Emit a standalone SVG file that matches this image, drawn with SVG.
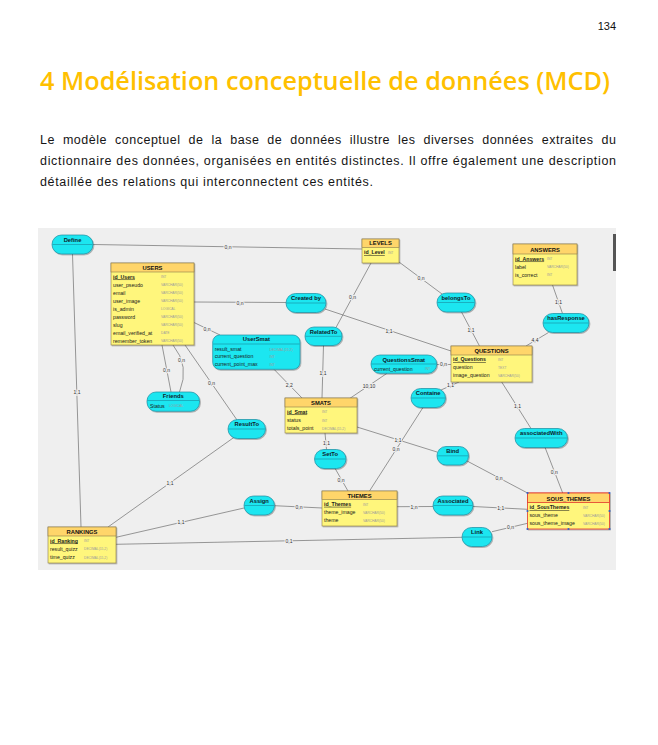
<svg xmlns="http://www.w3.org/2000/svg" width="658" height="745" viewBox="0 0 658 745">
<style>
.pn{font:11px "Liberation Sans",sans-serif;fill:#111;text-anchor:end}
.h1{font:600 25px "Open Sans",sans-serif;fill:#FFC000}
.para{font:12.5px "Liberation Sans",sans-serif;fill:#151515}
.canvas{fill:#EFEFEF}
.lnk{fill:none;stroke:#777;stroke-width:.75}
.card{font:5px "Liberation Sans",sans-serif;fill:#333;text-anchor:middle;paint-order:stroke;stroke:#EFEFEF;stroke-width:2.2;stroke-linejoin:round}
.eb{fill:#FFF67C;stroke:#8A7C4C;stroke-width:.6}
.eh{fill:#FFD56A;stroke:#8A7C4C;stroke-width:.6}
.sel .eb,.sel .eh{stroke:#E2382C;stroke-width:.8}
.et{font:bold 5.8px "Liberation Sans",sans-serif;fill:#111;text-anchor:middle}
.at{font:5.2px "Liberation Sans",sans-serif;fill:#1a1a1a}
.pk{font-weight:bold;text-decoration:underline}
.ty{font:3.3px "Liberation Sans",sans-serif;fill:#9C9C9C}
.as{fill:#1FE6F0;stroke:#1A8CA0;stroke-width:.7}
.dv{stroke:#1A8CA0;stroke-width:.6}
.an{font:bold 5.8px "Liberation Sans",sans-serif;fill:#0d1a2a;text-anchor:middle}
.hd{fill:#2F5FC8}
</style>
<defs>
<filter id="sh" x="-10%" y="-10%" width="130%" height="140%">
<feDropShadow dx="0.9" dy="1" stdDeviation="0.5" flood-color="#000" flood-opacity="0.3"/>
</filter>
</defs>

<!-- page -->
<rect width="658" height="745" fill="#fff"/>
<text class="pn" x="616" y="30">134</text>
<text class="h1" x="40" y="90" textLength="570" lengthAdjust="spacingAndGlyphs">4 Modélisation conceptuelle de données (MCD)</text>
<text class="para" x="40" y="144" word-spacing="4" textLength="576" lengthAdjust="spacing">Le modèle conceptuel de la base de données illustre les diverses données extraites du</text>
<text class="para" x="40" y="165" textLength="576" lengthAdjust="spacing">dictionnaire des données, organisées en entités distinctes. Il offre également une description</text>
<text class="para" x="40" y="186" textLength="333" lengthAdjust="spacing">détaillée des relations qui interconnectent ces entités.</text>

<!-- diagram canvas -->
<rect class="canvas" x="38" y="228" width="578" height="342"/>
<rect x="613" y="234" width="3" height="37" fill="#555"/>

<!-- connectors -->
<g id="connectors">
<path class="lnk" d="M93,244.5 L362,249"/>
<path class="lnk" d="M72.5,254 L81,527"/>
<path class="lnk" d="M194,302 L286,302.5"/>
<path class="lnk" d="M325,309 L451,351"/>
<path class="lnk" d="M371,263 L336,327.5"/>
<path class="lnk" d="M323.5,345 L322,398"/>
<path class="lnk" d="M399,262 L442,294"/>
<path class="lnk" d="M461.5,312 L479.5,346"/>
<path class="lnk" d="M552.5,285 L562.5,313.5"/>
<path class="lnk" d="M548.5,332.5 L526,346"/>
<path class="lnk" d="M194,322.5 L220,335"/>
<path class="lnk" d="M162,345 L171,392"/>
<path class="lnk" d="M173,345 Q190,366 179.5,392"/>
<path class="lnk" d="M185,345 L237,420"/>
<path class="lnk" d="M234.5,437 L108,527"/>
<path class="lnk" d="M274,369.3 L302,398"/>
<path class="lnk" d="M387,373.3 L350,398.3"/>
<path class="lnk" d="M436.7,364.5 L451,364.5"/>
<path class="lnk" d="M459,382 L441,390"/>
<path class="lnk" d="M423,407.5 L369.5,491"/>
<path class="lnk" d="M357,427 L437,452"/>
<path class="lnk" d="M325,433 L326.5,449.5"/>
<path class="lnk" d="M335,468.3 L348,491"/>
<path class="lnk" d="M466.5,460.7 L527.5,493"/>
<path class="lnk" d="M501.7,382 L531,428.5"/>
<path class="lnk" d="M545,447.3 L562.7,493"/>
<path class="lnk" d="M397,506.7 L433,506.5"/>
<path class="lnk" d="M473,506.5 L527.5,509.3"/>
<path class="lnk" d="M492,531.7 L527.5,523.3"/>
<path class="lnk" d="M116,544.3 L462,537.3"/>
<path class="lnk" d="M116,537.3 L244,508"/>
<path class="lnk" d="M274.5,505.7 L322.3,508"/>

<text class="card" x="228" y="249.4">0,n</text>
<text class="card" x="77" y="393.8">1,1</text>
<text class="card" x="240" y="304.6">0,n</text>
<text class="card" x="389" y="332.8">1,1</text>
<text class="card" x="352.5" y="298.8">0,n</text>
<text class="card" x="323" y="374.6">1,1</text>
<text class="card" x="421" y="280.3">0,n</text>
<text class="card" x="471" y="331.8">1,1</text>
<text class="card" x="558.5" y="303.8">1,1</text>
<text class="card" x="535" y="342.3">4,4</text>
<text class="card" x="207" y="330.8">0,n</text>
<text class="card" x="166.5" y="371.8">0,n</text>
<text class="card" x="181.5" y="362.3">0,n</text>
<text class="card" x="211.5" y="384.8">0,n</text>
<text class="card" x="170" y="484.8">1,1</text>
<text class="card" x="289.3" y="386.8">2,2</text>
<text class="card" x="369" y="388.3">10,10</text>
<text class="card" x="443.5" y="366.3">0,n</text>
<text class="card" x="450.5" y="387.3">1,1</text>
<text class="card" x="396" y="450.8">0,n</text>
<text class="card" x="398" y="441.6">1,1</text>
<text class="card" x="326.5" y="444.8">1,1</text>
<text class="card" x="341" y="482.3">0,n</text>
<text class="card" x="499" y="480.3">0,n</text>
<text class="card" x="517.5" y="407.8">1,1</text>
<text class="card" x="554.3" y="473.5">0,n</text>
<text class="card" x="414" y="508.5">1,n</text>
<text class="card" x="500.7" y="509.8">1,1</text>
<text class="card" x="510.5" y="529.3">0,n</text>
<text class="card" x="289" y="542.6">0,1</text>
<text class="card" x="181" y="524.3">1,1</text>
<text class="card" x="299" y="508.8">0,n</text>
</g>

<!-- entities -->
<g id="levels">
<rect class="eb" x="362" y="239" width="37" height="24" filter="url(#sh)"/>
<rect class="eh" x="362" y="239" width="37" height="8.5"/>
<text class="et" x="380.5" y="245.3">LEVELS</text>
<text class="at pk" x="364" y="254">id_Level</text>
<text class="ty" x="388" y="253.6">INT</text>
</g>

<g id="users">
<rect class="eb" x="111" y="263" width="83" height="82" filter="url(#sh)"/>
<rect class="eh" x="111" y="263" width="83" height="9"/>
<text class="et" x="152.5" y="270">USERS</text>
<text class="at pk" x="113" y="278.5">id_Users</text>
<text class="at" x="113" y="286.5">user_pseudo</text>
<text class="at" x="113" y="294.5">email</text>
<text class="at" x="113" y="302.5">user_image</text>
<text class="at" x="113" y="310.5">is_admin</text>
<text class="at" x="113" y="318.5">password</text>
<text class="at" x="113" y="326.5">slug</text>
<text class="at" x="113" y="334.5">email_verified_at</text>
<text class="at" x="113" y="342.5">remember_token</text>
<text class="ty" x="161" y="278.2">INT</text>
<text class="ty" x="161" y="286.2">VARCHAR(50)</text>
<text class="ty" x="161" y="294.2">VARCHAR(50)</text>
<text class="ty" x="161" y="302.2">VARCHAR(50)</text>
<text class="ty" x="161" y="310.2">LOGICAL</text>
<text class="ty" x="161" y="318.2">VARCHAR(50)</text>
<text class="ty" x="161" y="326.2">VARCHAR(50)</text>
<text class="ty" x="161" y="334.2">DATE</text>
<text class="ty" x="161" y="342.2">VARCHAR(50)</text>
</g>

<g id="answers">
<rect class="eb" x="513" y="244" width="64" height="41" filter="url(#sh)"/>
<rect class="eh" x="513" y="244" width="64" height="10"/>
<text class="et" x="545" y="251.6">ANSWERS</text>
<text class="at pk" x="515" y="260.5">id_Answers</text>
<text class="at" x="515" y="268.5">label</text>
<text class="at" x="515" y="276.5">is_correct</text>
<text class="ty" x="547" y="260.2">INT</text>
<text class="ty" x="547" y="268.2">VARCHAR(50)</text>
<text class="ty" x="547" y="276.2">INT</text>
</g>

<g id="questions">
<rect class="eb" x="451" y="346" width="81" height="36" filter="url(#sh)"/>
<rect class="eh" x="451" y="346" width="81" height="9"/>
<text class="et" x="491.5" y="353">QUESTIONS</text>
<text class="at pk" x="453" y="361">id_Questions</text>
<text class="at" x="453" y="369.2">question</text>
<text class="at" x="453" y="377.4">image_question</text>
<text class="ty" x="498" y="360.7">INT</text>
<text class="ty" x="498" y="368.9">TEXT</text>
<text class="ty" x="498" y="377.1">VARCHAR(50)</text>
</g>

<g id="smats">
<rect class="eb" x="285" y="398" width="72" height="35" filter="url(#sh)"/>
<rect class="eh" x="285" y="398" width="72" height="9"/>
<text class="et" x="321" y="405">SMATS</text>
<text class="at pk" x="287" y="413.5">id_Smat</text>
<text class="at" x="287" y="421.8">status</text>
<text class="at" x="287" y="430">totals_point</text>
<text class="ty" x="322" y="413.2">INT</text>
<text class="ty" x="322" y="421.5">INT</text>
<text class="ty" x="322" y="429.7">DECIMAL(15,2)</text>
</g>

<g id="themes">
<rect class="eb" x="322" y="491" width="75" height="35" filter="url(#sh)"/>
<rect class="eh" x="322" y="491" width="75" height="8.5"/>
<text class="et" x="359.5" y="497.5">THEMES</text>
<text class="at pk" x="324" y="505.8">id_Themes</text>
<text class="at" x="324" y="513.8">theme_image</text>
<text class="at" x="324" y="521.8">theme</text>
<text class="ty" x="363" y="505.5">INT</text>
<text class="ty" x="363" y="513.5">VARCHAR(50)</text>
<text class="ty" x="363" y="521.5">VARCHAR(50)</text>
</g>

<g id="sous_themes" class="sel">
<rect class="eb" x="527.5" y="493" width="82" height="36" filter="url(#sh)"/>
<rect class="eh" x="527.5" y="493" width="82" height="9.5"/>
<text class="et" x="568.5" y="500.5">SOUS_THEMES</text>
<text class="at pk" x="529.5" y="509">id_SousThemes</text>
<text class="at" x="529.5" y="517">sous_theme</text>
<text class="at" x="529.5" y="524.8">sous_theme_image</text>
<text class="ty" x="583" y="508.7">INT</text>
<text class="ty" x="583" y="516.7">VARCHAR(50)</text>
<text class="ty" x="583" y="524.5">VARCHAR(50)</text>
<rect class="hd" x="526.6" y="492.1" width="1.8" height="1.8"/>
<rect class="hd" x="567.6" y="492.1" width="1.8" height="1.8"/>
<rect class="hd" x="608.6" y="492.1" width="1.8" height="1.8"/>
<rect class="hd" x="526.6" y="510.1" width="1.8" height="1.8"/>
<rect class="hd" x="608.6" y="510.1" width="1.8" height="1.8"/>
<rect class="hd" x="526.6" y="528.1" width="1.8" height="1.8"/>
<rect class="hd" x="567.6" y="528.1" width="1.8" height="1.8"/>
<rect class="hd" x="608.6" y="528.1" width="1.8" height="1.8"/>
</g>

<g id="rankings">
<rect class="eb" x="48" y="527" width="68" height="36" filter="url(#sh)"/>
<rect class="eh" x="48" y="527" width="68" height="9"/>
<text class="et" x="82" y="534">RANKINGS</text>
<text class="at pk" x="50" y="542.5">id_Ranking</text>
<text class="at" x="50" y="550.7">result_quizz</text>
<text class="at" x="50" y="558.8">time_quizz</text>
<text class="ty" x="84" y="542.2">INT</text>
<text class="ty" x="84" y="550.4">DECIMAL(15,2)</text>
<text class="ty" x="84" y="558.5">DECIMAL(15,2)</text>
</g>

<!-- associations -->
<g id="define">
<rect class="as" x="52" y="235" width="41" height="19" rx="9.5" filter="url(#sh)"/>
<line class="dv" x1="52.5" y1="244.5" x2="92.5" y2="244.5"/>
<text class="an" x="72.5" y="241.5">Define</text>
</g>
<g id="created_by">
<rect class="as" x="286" y="293.5" width="40" height="19" rx="9.5" filter="url(#sh)"/>
<line class="dv" x1="286.5" y1="303" x2="325.5" y2="303"/>
<text class="an" x="306" y="300">Created by</text>
</g>
<g id="related_to">
<rect class="as" x="305" y="327" width="37" height="18.5" rx="9" filter="url(#sh)"/>
<line class="dv" x1="305.5" y1="336.3" x2="341.5" y2="336.3"/>
<text class="an" x="323.5" y="333.5">RelatedTo</text>
</g>
<g id="belongs_to">
<rect class="as" x="437" y="293" width="38" height="19" rx="9.5" filter="url(#sh)"/>
<line class="dv" x1="437.5" y1="302.5" x2="474.5" y2="302.5"/>
<text class="an" x="456" y="299.5">belongsTo</text>
</g>
<g id="has_response">
<rect class="as" x="543" y="313.5" width="46" height="19" rx="9.5" filter="url(#sh)"/>
<line class="dv" x1="543.5" y1="323" x2="588.5" y2="323"/>
<text class="an" x="566" y="320">hasResponse</text>
</g>
<g id="containe">
<rect class="as" x="411" y="388.5" width="34.5" height="19" rx="9.5" filter="url(#sh)"/>
<line class="dv" x1="411.5" y1="398" x2="445" y2="398"/>
<text class="an" x="428.2" y="395">Containe</text>
</g>
<g id="result_to">
<rect class="as" x="228" y="419.5" width="37.5" height="19" rx="9.5" filter="url(#sh)"/>
<line class="dv" x1="228.5" y1="429" x2="265" y2="429"/>
<text class="an" x="246.8" y="426">ResultTo</text>
</g>
<g id="set_to">
<rect class="as" x="314.5" y="449.5" width="31.5" height="19" rx="9.5" filter="url(#sh)"/>
<line class="dv" x1="315" y1="459" x2="345.5" y2="459"/>
<text class="an" x="330.2" y="456">SetTo</text>
</g>
<g id="bind">
<rect class="as" x="437" y="446.5" width="31.5" height="18.5" rx="9" filter="url(#sh)"/>
<line class="dv" x1="437.5" y1="455.8" x2="468" y2="455.8"/>
<text class="an" x="452.7" y="453">Bind</text>
</g>
<g id="associated_with">
<rect class="as" x="515" y="428.5" width="52.5" height="19" rx="9.5" filter="url(#sh)"/>
<line class="dv" x1="515.5" y1="438" x2="567" y2="438"/>
<text class="an" x="541.2" y="435">associatedWith</text>
</g>
<g id="assign">
<rect class="as" x="244" y="496" width="30.5" height="19" rx="9.5" filter="url(#sh)"/>
<line class="dv" x1="244.5" y1="505.5" x2="274" y2="505.5"/>
<text class="an" x="259.2" y="502.5">Assign</text>
</g>
<g id="associated">
<rect class="as" x="433" y="496" width="40" height="19" rx="9.5" filter="url(#sh)"/>
<line class="dv" x1="433.5" y1="505.5" x2="472.5" y2="505.5"/>
<text class="an" x="453" y="502.5">Associated</text>
</g>
<g id="link">
<rect class="as" x="462" y="527.5" width="30" height="19" rx="9.5" filter="url(#sh)"/>
<line class="dv" x1="462.5" y1="537" x2="491.5" y2="537"/>
<text class="an" x="477" y="534">Link</text>
</g>

<g id="user_smat">
<rect class="as" x="212.7" y="335" width="87.3" height="34.3" rx="7" filter="url(#sh)"/>
<line class="dv" x1="213.2" y1="344" x2="299.5" y2="344"/>
<text class="an" x="256.3" y="341.2">UserSmat</text>
<text class="at" x="214.7" y="350.8">result_smat</text>
<text class="at" x="214.7" y="358.1">current_question</text>
<text class="at" x="214.7" y="365.8">current_point_max</text>
<text class="ty" x="269.5" y="350.5">DECIMAL(15,2)</text>
<text class="ty" x="269.5" y="357.8">INT</text>
<text class="ty" x="269.5" y="365.5">INT</text>
</g>
<g id="questions_smat">
<rect class="as" x="371" y="355" width="65.7" height="18.3" rx="9" filter="url(#sh)"/>
<line class="dv" x1="371.5" y1="364" x2="436.2" y2="364"/>
<text class="an" x="403.8" y="361.5">QuestionsSmat</text>
<text class="at" x="374" y="370.5">current_question</text>
<text class="ty" x="425" y="370.2">INT</text>
</g>
<g id="friends">
<rect class="as" x="147" y="392" width="52.5" height="19.3" rx="9" filter="url(#sh)"/>
<line class="dv" x1="147.5" y1="400.5" x2="199" y2="400.5"/>
<text class="an" x="173.3" y="398.3">Friends</text>
<text class="at" x="150" y="407.5">Status</text>
<text class="ty" x="169" y="407.2">LOGICAL</text>
</g>
</svg>
